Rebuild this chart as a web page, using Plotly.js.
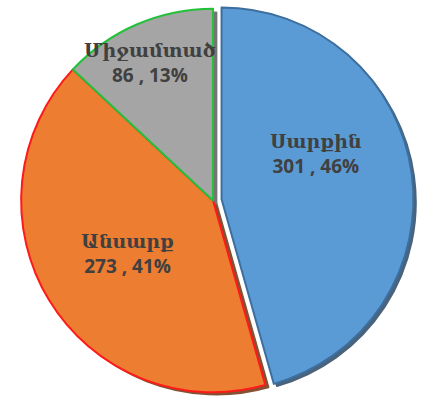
<!DOCTYPE html>
<html>
<head>
<meta charset="utf-8">
<script src="https://cdn.plot.ly/plotly-3.0.1.min.js"></script>
<style>html,body{margin:0;padding:0;background:#fff;}#chart{width:421px;height:403px;}</style>
</head>
<body>
<div id="chart"></div>
<script>
const labels = ["Սարքին", "Անսարք", "Միջամտած"];
const values = [301, 273, 86];
const fillColors = ["#5b9bd5", "#ed7d31", "#a5a5a5"];
const borderColors = ["#3c6e9e", "#ff1a1a", "#22c13a"];
const shadowColors = ["#2b4866", "#6e3410", "#5e5e5e"];
const pulls = [0.045, 0, 0];
// label anchor positions (paper fraction) for each slice's text
const labelX = [0.751, 0.304, 0.356];
const labelY = [0.618, 0.372, 0.844];

const total = values.reduce((a, b) => a + b, 0);

const common = {
  type: "pie",
  labels: labels,
  values: values,
  sort: false,
  direction: "clockwise",
  rotation: 0,
  pull: pulls,
  hoverinfo: "none",
  textinfo: "none"
};

const shadow = Object.assign({}, common, {
  domain: {x: [0.028, 1], y: [0.0, 0.99]},
  marker: {colors: shadowColors, line: {color: shadowColors, width: 2}},
  opacity: 0.85
});

const main = Object.assign({}, common, {
  domain: {x: [0.0119, 1], y: [0.005, 1]},
  marker: {colors: fillColors, line: {color: borderColors, width: 2}}
});

const annotations = labels.map((lab, i) => ({
  xref: "paper", yref: "paper",
  x: labelX[i], y: labelY[i],
  xanchor: "center", yanchor: "middle",
  showarrow: false,
  text: lab + "<br>" + values[i] + " , " + Math.round(values[i] / total * 100) + "%",
  font: {family: "Open Sans, DejaVu Serif, DejaVu Sans, sans-serif", size: 19, color: "#404040", weight: "bold"}
}));

const layout = {
  width: 421,
  height: 403,
  margin: {l: 0, r: 0, t: 0, b: 0},
  showlegend: false,
  paper_bgcolor: "#ffffff",
  annotations: annotations
};

Plotly.newPlot("chart", [shadow, main], layout, {displayModeBar: false, staticPlot: true});
</script>
</body>
</html>
